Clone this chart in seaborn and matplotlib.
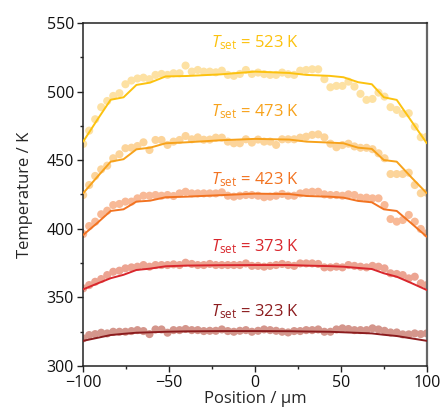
import numpy as np
import pandas as pd
import matplotlib
matplotlib.use("Agg")
import matplotlib.pyplot as plt
import seaborn as sns

sns.set_style("ticks")
plt.rcParams['font.family'] = ['Open Sans', 'DejaVu Sans']
plt.rcParams['mathtext.fontset'] = 'custom'
plt.rcParams['mathtext.it'] = 'Open Sans:italic'
plt.rcParams['mathtext.rm'] = 'Open Sans'

SET_TEMPS = [523, 473, 423, 373, 323]

# measured points (58 positions across the channel)
POS = [-100.0, -96.5, -93.0, -89.5, -86.0, -82.5, -78.9, -75.4, -71.9, -68.4,
       -64.9, -61.4, -57.9, -54.4, -50.9, -47.4, -43.9, -40.4, -36.8, -33.3,
       -29.8, -26.3, -22.8, -19.3, -15.8, -12.3, -8.8, -5.3, -1.8, 1.8,
       5.3, 8.8, 12.3, 15.8, 19.3, 22.8, 26.3, 29.8, 33.3, 36.8,
       40.4, 43.9, 47.4, 50.9, 54.4, 57.9, 61.4, 64.9, 68.4, 71.9,
       75.4, 78.9, 82.5, 86.0, 89.5, 93.0, 96.5, 100.0]

PTS_523 = [461.8, 471.5, 479.8, 488.6, 493.1, 496.8, 498.8, 505.3, 508.0, 509.5,
           510.1, 509.0, 512.1, 512.8, 512.1, 513.3, 513.3, 518.9, 514.5, 515.7,
           514.5, 514.5, 514.0, 515.2, 512.1, 511.4, 512.8, 515.7, 512.8, 513.8,
           512.7, 512.1, 512.1, 513.8, 512.6, 512.1, 515.2, 515.7, 516.2, 516.2,
           509.0, 503.1, 504.1, 504.1, 507.2, 503.6, 498.3, 493.9, 494.6, 499.2,
           496.3, 488.6, 486.6, 483.7, 484.2, 474.4, 466.7, 467.1]
PTS_473 = [424.6, 431.9, 438.5, 443.3, 446.0, 451.4, 454.3, 458.7, 459.1, 460.3,
           463.0, 457.4, 464.7, 464.7, 461.1, 463.5, 464.7, 467.6, 465.2, 466.6,
           464.9, 465.0, 466.4, 466.4, 463.5, 462.3, 462.3, 465.2, 462.8, 465.0,
           463.5, 463.5, 461.1, 465.2, 465.2, 465.2, 466.4, 467.1, 468.4, 468.8,
           466.6, 462.0, 459.4, 461.0, 462.0, 460.0, 459.0, 459.0, 458.0, 455.0,
           451.4, 439.9, 439.9, 439.9, 440.9, 431.9, 425.9, 426.3]
PTS_423 = [396.2, 402.0, 405.2, 410.6, 413.2, 417.3, 418.1, 419.8, 419.8, 422.2,
           424.1, 424.1, 424.6, 424.1, 424.6, 423.9, 425.8, 427.0, 425.8, 425.8,
           425.8, 425.8, 425.8, 426.6, 424.1, 423.4, 424.1, 424.6, 424.6, 424.1,
           423.0, 423.4, 424.1, 425.4, 424.1, 424.1, 425.8, 426.6, 427.0, 427.0,
           425.1, 424.6, 424.6, 424.1, 425.1, 424.6, 422.7, 422.7, 422.2, 422.2,
           417.3, 407.1, 405.2, 406.4, 410.1, 405.2, 399.9, 396.7]
PTS_373 = [356.6, 359.0, 361.4, 363.4, 366.3, 368.7, 369.5, 371.2, 371.9, 372.4,
           373.6, 372.4, 373.6, 373.6, 373.6, 374.1, 373.6, 375.3, 374.4, 373.6,
           373.6, 374.4, 373.6, 373.6, 373.6, 373.6, 373.6, 374.8, 373.0, 373.0,
           372.4, 373.0, 373.6, 374.4, 373.6, 373.0, 374.8, 374.8, 374.8, 374.4,
           371.9, 371.9, 372.4, 371.9, 373.6, 373.0, 372.4, 371.9, 373.0, 372.4,
           371.2, 367.6, 367.1, 366.3, 363.9, 365.1, 360.3, 359.0]
PTS_323 = [320.2, 322.6, 323.3, 324.3, 323.8, 325.0, 325.0, 325.0, 325.5, 326.2,
           325.5, 323.3, 326.7, 326.7, 324.3, 326.2, 326.2, 327.0, 326.2, 326.2,
           325.5, 325.7, 325.7, 326.7, 325.5, 325.0, 325.7, 326.2, 325.0, 325.7,
           326.7, 326.2, 325.7, 325.0, 324.5, 325.5, 325.5, 326.2, 326.2, 326.7,
           325.0, 325.0, 326.7, 327.5, 327.0, 326.2, 326.2, 326.2, 327.5, 326.7,
           325.7, 324.5, 324.5, 323.1, 323.1, 323.8, 323.3, 323.8]

# simulated profiles
SIM_POS = [-100, -92, -84, -76.5, -69, -61, -52, -40, -20, 0,
           20, 30, 43.5, 51.5, 60, 68, 75, 82.5, 91, 100]
SIM_523 = [463.5, 479.0, 494.0, 495.8, 504.8, 506.5, 511.0, 511.3, 512.5, 514.5,
           513.5, 512.1, 511.4, 510.4, 506.8, 505.3, 495.8, 493.9, 478.5, 462.3]
SIM_473 = [425.9, 437.5, 448.9, 450.7, 457.9, 459.1, 462.3, 463.0, 464.5, 465.5,
           465.0, 463.5, 462.8, 462.3, 459.1, 458.2, 450.1, 448.9, 437.5, 425.9]
SIM_423 = [395.5, 404.0, 413.0, 414.2, 419.8, 420.5, 423.0, 423.4, 424.5, 425.6,
           425.3, 423.9, 423.4, 422.7, 420.3, 419.3, 414.2, 413.0, 404.0, 394.2]
SIM_373 = [355.9, 360.0, 364.0, 366.5, 370.0, 371.0, 372.7, 373.2, 373.5, 373.6,
           373.6, 373.2, 372.8, 372.4, 371.5, 370.7, 367.6, 365.1, 360.5, 355.4]
SIM_323 = [318.4, 320.5, 322.6, 323.5, 324.3, 324.6, 325.0, 325.3, 325.5, 325.5,
           325.4, 325.2, 325.0, 324.6, 324.2, 323.8, 322.8, 321.9, 320.2, 318.4]

LINE_COLORS = ["#fcc20f", "#f7a21b", "#f27321", "#d9262c", "#8c1c1e"]
POINT_COLORS = ["#fde1a3", "#fcd49a", "#f8b996", "#eca492", "#d4968c"]
LABEL_Y = [535.4, 485.0, 435.6, 386.7, 339.4]

pts = pd.DataFrame({
    "Position": POS * 5,
    "Temperature": PTS_523 + PTS_473 + PTS_423 + PTS_373 + PTS_323,
    "Tset": np.repeat(SET_TEMPS, len(POS)),
})
sim = pd.DataFrame({
    "Position": SIM_POS * 5,
    "Temperature": SIM_523 + SIM_473 + SIM_423 + SIM_373 + SIM_323,
    "Tset": np.repeat(SET_TEMPS, len(SIM_POS)),
})

fig = plt.figure(figsize=(4.4, 4.16), dpi=100)
ax = fig.add_axes([0.189, 0.12, 0.781, 0.825])

sns.scatterplot(data=pts, x="Position", y="Temperature", hue="Tset",
                hue_order=SET_TEMPS, palette=POINT_COLORS, s=34,
                linewidth=0, legend=False, ax=ax, zorder=2)
sns.lineplot(data=sim, x="Position", y="Temperature", hue="Tset",
             hue_order=SET_TEMPS, palette=LINE_COLORS, linewidth=1.4,
             legend=False, ax=ax, zorder=3)

for t, c, ly in zip(SET_TEMPS, LINE_COLORS, LABEL_Y):
    ax.text(0, ly, r"$T_\mathrm{set}$" + f" = {t} K", color=c, fontsize=12,
            ha="center", va="center")

ax.set_xlim(-100, 100)
ax.set_ylim(300, 550)
ax.set_xticks([-100, -50, 0, 50, 100])
ax.set_xticks([-75, -25, 25, 75], minor=True)
ax.set_yticks([300, 350, 400, 450, 500, 550])
ax.set_yticks([325, 375, 425, 475, 525], minor=True)
ax.set_xticklabels(["\u2212100", "\u221250", "0", "50", "100"])
ax.tick_params(which="major", length=4, width=1, labelsize=11.5, colors="#222222",
               labelcolor="#111111", pad=2.5)
ax.tick_params(which="minor", length=2.5, width=1)
ax.set_xlabel("Position / \u00b5m", fontsize=12, labelpad=0)
ax.set_ylabel("Temperature / K", fontsize=12, labelpad=10)
for s in ax.spines.values():
    s.set_visible(True)
    s.set_linewidth(1.1)
    s.set_color("#222222")
ax.spines["right"].set_color("#666666")
ax.spines["right"].set_linewidth(1.6)

fig.savefig("out.png", dpi=100)
